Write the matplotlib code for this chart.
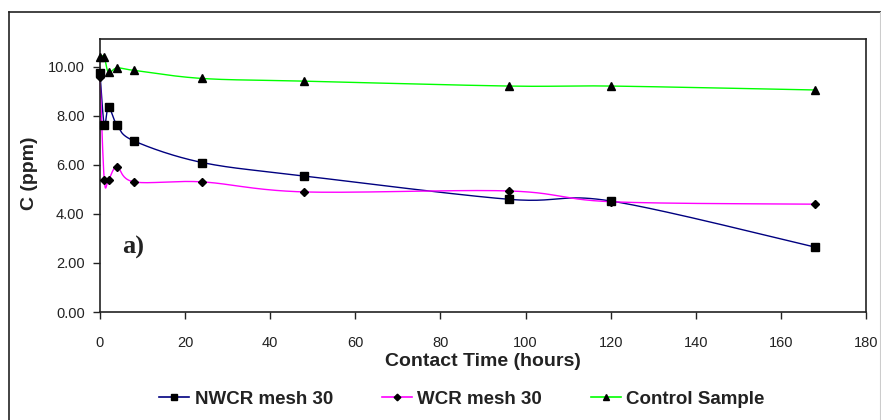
import numpy as np
import matplotlib
matplotlib.use("Agg")
import matplotlib.pyplot as plt
from matplotlib.lines import Line2D

# Concentration over contact time
hours = [0, 1, 2, 4, 8, 24, 48, 96, 120, 168]
nwcr = [9.75, 7.63, 8.37, 7.63, 6.98, 6.10, 5.55, 4.60, 4.53, 2.65]
wcr = [9.60, 5.39, 5.39, 5.92, 5.31, 5.31, 4.90, 4.94, 4.50, 4.40]
control = [10.42, 10.40, 9.78, 9.96, 9.86, 9.53, 9.42, 9.22, 9.22, 9.06]

series_names = ["NWCR mesh 30", "WCR mesh 30", "Control Sample"]
x_ticks = [0, 20, 40, 60, 80, 100, 120, 140, 160, 180]
y_ticks = [0, 2, 4, 6, 8, 10]

plt.rcParams['font.family'] = ['Liberation Sans', 'DejaVu Sans']

W, H = 881, 420
fig = plt.figure(figsize=(W / 100, H / 100), dpi=100)
ax_l, ax_r, ax_t, ax_b = 100, 866, 39, 312
ax = fig.add_axes([ax_l / W, 1 - ax_b / H, (ax_r - ax_l) / W, (ax_b - ax_t) / H])

XMAX, YMAX = 180, 11.14
sx = (ax_r - ax_l) / XMAX
sy = (ax_b - ax_t) / YMAX


def smooth(xs, ys, n=40):
    """Bezier smoothing in screen space (Catmull-Rom style control points)."""
    P = np.column_stack([np.asarray(xs, float) * sx, np.asarray(ys, float) * sy])
    ext = np.vstack([P[0], P, P[-1]])
    t = np.linspace(0, 1, n)[:, None]
    out = []
    for i in range(len(P) - 1):
        p0, p1, p2, p3 = ext[i], ext[i + 1], ext[i + 2], ext[i + 3]
        c1 = p1 + (p2 - p0) / 6
        c2 = p2 - (p3 - p1) / 6
        seg = (1 - t) ** 3 * p1 + 3 * (1 - t) ** 2 * t * c1 + 3 * (1 - t) * t ** 2 * c2 + t ** 3 * p2
        out.append(seg if i == 0 else seg[1:])
    pts = np.vstack(out)
    return pts[:, 0] / sx, pts[:, 1] / sy


styles = [
    (nwcr, "#000080", "s", 6.0),
    (wcr, "#ff00ff", "D", 4.2),
    (control, "#00ff00", "^", 6.0),
]

handles = []
for (vals, color, mk, ms), name in zip(styles, series_names):
    xs, ys = smooth(hours, vals)
    ax.plot(xs, ys, color=color, lw=1.0, zorder=2, clip_on=False)
    ax.plot(hours, vals, ls="none", marker=mk, ms=ms, color="black", zorder=3, clip_on=False)
    handles.append(Line2D([], [], color=color, lw=1.2, marker=mk, ms=ms * 0.8,
                          markerfacecolor="black", markeredgecolor="black"))

ax.set_xlim(0, XMAX)
ax.set_ylim(0, YMAX)
ax.set_xticks(x_ticks)
ax.set_xticklabels([str(v) for v in x_ticks])
ax.set_yticks(y_ticks)
ax.set_yticklabels([f"{v:.2f}" for v in y_ticks])
ax.tick_params(axis="both", direction="out", length=5, width=1.0, labelsize=10.5, colors="#222222")
ax.tick_params(axis="x", pad=12)
ax.tick_params(axis="y", pad=6)
for sp in ax.spines.values():
    sp.set_linewidth(1.2)
    sp.set_color("#222222")

fig.text((ax_l + ax_r) / 2 / W, 1 - 361 / H, "Contact Time (hours)", ha="center", va="center",
         fontsize=14, fontweight="bold", color="#222222")
fig.text(29 / W, 1 - 173 / H, "C (ppm)", ha="center", va="center", rotation=90,
         fontsize=14, fontweight="bold", color="#222222")
fig.text(122 / W, 1 - 254 / H, "a)", ha="left", va="baseline", fontsize=19, fontweight="bold",
         family=["Liberation Serif", "DejaVu Serif"], color="#222222")

fig.legend(handles, series_names, loc="center", bbox_to_anchor=(462 / W, 1 - 399 / H), ncol=3,
           frameon=False, prop={"size": 13.5, "weight": "bold"}, handlelength=1.6,
           handletextpad=0.3, columnspacing=2.6, labelcolor="#222222")

# Outer frame around the chart
fig.add_artist(Line2D([9 / W, 9 / W], [0, 1 - 12 / H], transform=fig.transFigure, color="#222222", lw=1.2))
fig.add_artist(Line2D([9 / W, 1], [1 - 12 / H, 1 - 12 / H], transform=fig.transFigure, color="#222222", lw=1.2))
fig.add_artist(Line2D([880 / W, 880 / W], [0, 1 - 12 / H], transform=fig.transFigure, color="#cccccc", lw=0.8))

fig.savefig("out.png", dpi=100)
